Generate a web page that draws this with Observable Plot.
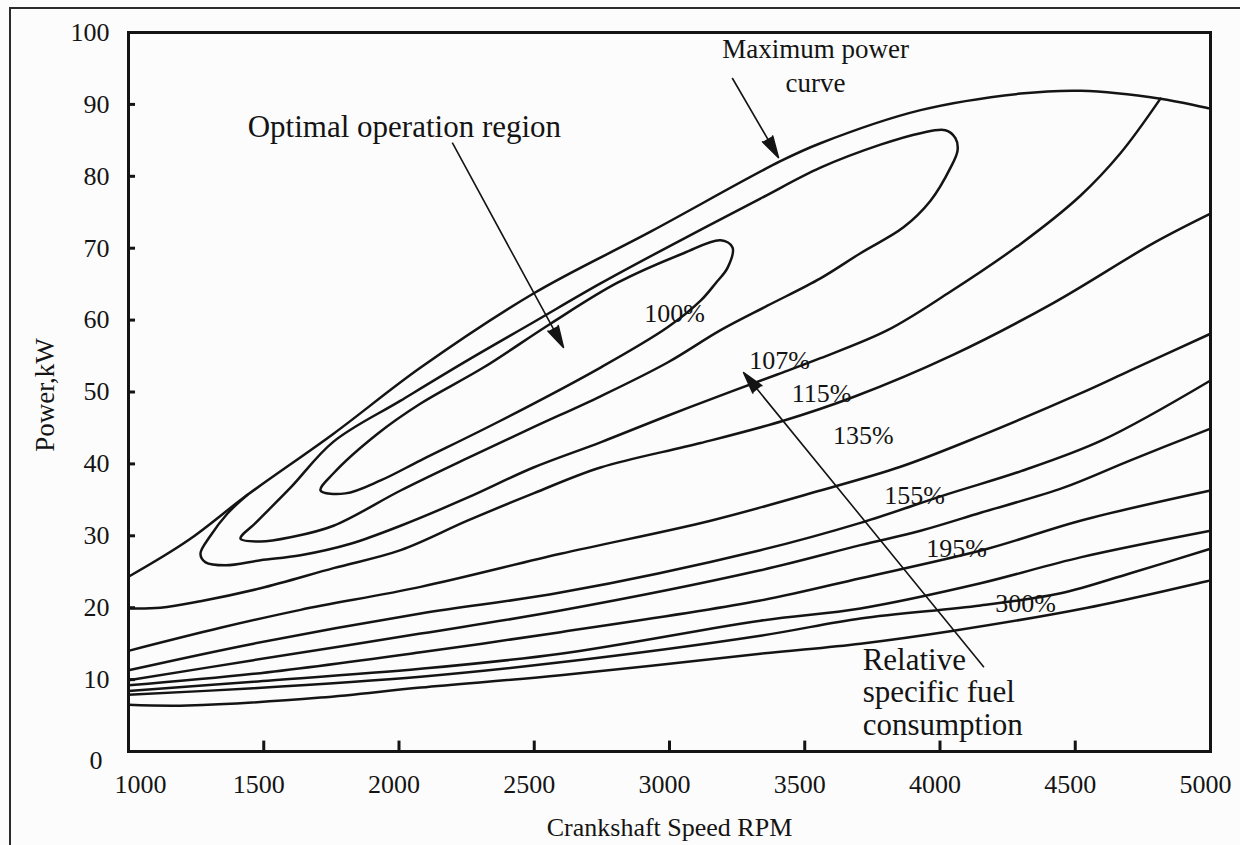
<!DOCTYPE html>
<html>
<head>
<meta charset="utf-8">
<script src="https://cdn.jsdelivr.net/npm/d3@7"></script>
<script src="https://cdn.jsdelivr.net/npm/@observablehq/plot@0.6"></script>
<style>
  html, body { margin: 0; padding: 0; background: #fcfcfc; }
  #wrap { position: relative; width: 1240px; height: 845px; overflow: hidden; background: #fcfcfc; }
  #border { position: absolute; left: 9px; top: 7px; width: 1240px; height: 850px;
            border-top: 2px solid #2b2b2b; border-left: 2px solid #2b2b2b; pointer-events: none; }
</style>
</head>
<body>
<div id="wrap"><div id="chart"></div><div id="border"></div></div>
<script>
// ---- tick values ----
const xTicks = [1000, 1500, 2000, 2500, 3000, 3500, 4000, 4500, 5000];
const yTicks = [0, 10, 20, 30, 40, 50, 60, 70, 80, 90, 100];

// ---- curves: [crankshaft speed (rpm), power (kW)] ----
const maxPowerCurve = [[1000,24.3],[1218,29.3],[1440,35.7],[1758,44.2],[2080,53.4],[2497,63.7],[2930,72.3],[3410,82.1],[3558,84.6],[3928,89.2],[4298,91.5],[4520,91.9],[4815,90.8],[5000,89.4]];
const loop100 = [[1710,36.3],[1758,38.7],[1921,44.2],[2080,48.4],[2312,53.4],[2560,59.5],[2808,65.2],[3052,69.3],[3189,71.1],[3233,70.1],[3215,67.3],[3170,65.1],[3115,62.7],[2993,59.0],[2745,53.4],[2375,46.0],[2080,40.5],[1932,37.7],[1802,35.9]];
const loopMid = [[1414,29.6],[1470,31.8],[1599,36.7],[1758,43.1],[2006,48.8],[2253,54.4],[2497,59.7],[2745,65.1],[3041,71.1],[3336,76.9],[3558,81.2],[3780,84.4],[3928,86.0],[4020,86.4],[4057,85.3],[4065,83.6],[4039,81.2],[3965,76.6],[3865,72.9],[3706,69.3],[3558,65.8],[3362,62.0],[3189,58.6],[2993,54.1],[2745,49.4],[2497,45.1],[2253,40.8],[2006,36.3],[1758,31.4],[1599,29.8],[1488,29.2]];
const curve107 = [[1440,35.7],[1366,33.1],[1303,30.0],[1266,27.5],[1285,26.3],[1359,25.9],[1488,26.6],[1636,27.3],[1821,28.9],[2006,31.4],[2253,35.3],[2497,39.5],[2745,43.0],[2993,46.7],[3237,50.2],[3410,52.6],[3558,54.7],[3806,58.6],[4028,63.7],[4298,70.6],[4519,77.3],[4667,83.2],[4815,90.8]];
const curve115 = [[1000,19.9],[1118,20.0],[1266,20.9],[1488,22.7],[1758,25.5],[2006,28.0],[2253,32.1],[2497,35.9],[2745,39.5],[3115,42.9],[3421,46.0],[3680,49.3],[4050,55.2],[4420,62.4],[4789,70.7],[5000,74.8]];
const curve135 = [[1000,14.0],[1340,17.2],[1636,19.7],[2080,22.9],[2597,27.5],[3152,32.1],[3558,36.3],[3854,39.6],[4150,43.9],[4519,49.8],[4704,53.0],[5000,58.1]];
const curve155 = [[1000,11.3],[1462,15.0],[2080,19.2],[2597,22.1],[3336,28.0],[3706,31.8],[4028,35.8],[4300,39.0],[4600,43.3],[5000,51.6]];
const curve175 = [[1000,9.9],[1462,12.7],[2080,16.4],[2597,19.6],[3336,25.2],[3706,28.7],[3928,30.7],[4150,33.2],[4457,36.7],[4704,40.5],[5000,44.9]];
const curve195 = [[1000,9.2],[1462,10.8],[2080,13.8],[2597,16.6],[3336,21.0],[3706,24.1],[4176,28.2],[4519,32.1],[5000,36.3]];
const curve250 = [[1000,8.4],[1462,9.7],[2080,11.5],[2597,13.6],[3336,18.2],[3706,19.9],[4150,23.4],[4519,27.0],[5000,30.7]];
const curve300 = [[1000,7.9],[1462,8.8],[2080,10.4],[2597,12.4],[3336,16.1],[3706,18.5],[4150,20.3],[4446,22.0],[4704,24.8],[5000,28.2]];
const curveLow = [[1000,6.5],[1218,6.4],[1710,7.5],[2080,8.9],[2597,10.6],[3336,13.6],[3706,15.0],[4050,16.8],[4545,20.0],[5000,23.8]];

// ---- contour labels ----
const pctText = ["100%", "107%", "115%", "135%", "155%", "195%", "300%"];
const pctRpm  = [3019, 3407, 3562, 3717, 3906, 4061, 4316];
const pctKw   = [60.9, 54.4, 49.8, 43.9, 35.6, 28.2, 20.6];

// ---- annotation arrows: tail -> tip ----
const arrowTail = [[2198, 84.6], [3233, 93.6], [4161, 11.8]];
const arrowTip  = [[2608, 56.2], [3403, 82.6], [3274, 52.7]];

// ---- annotation texts ----
const noteText = ["Optimal operation region", "Maximum power\ncurve", "Relative\nspecific fuel\nconsumption"];
const notePos  = [[2020, 86.8], [3540, 95.6], [3714, 8.3]];

// build tables
const openCurves = {maxPowerCurve, curve107, curve115, curve135, curve155, curve175, curve195, curve250, curve300, curveLow};
const openRows = Object.entries(openCurves).flatMap(([name, pts]) => pts.map(([rpm, kw]) => ({name, rpm, kw})));
const loopRows = Object.entries({loop100, loopMid}).flatMap(([name, pts]) => pts.map(([rpm, kw]) => ({name, rpm, kw})));
const arrows = arrowTail.map((t, i) => ({x1: t[0], y1: t[1], x2: arrowTip[i][0], y2: arrowTip[i][1]}));
const pcts = pctText.map((t, i) => ({t, rpm: pctRpm[i], kw: pctKw[i]}));

const ink = "#141414";
const serif = "'Liberation Serif', 'Times New Roman', serif";

const chart = Plot.plot({
  width: 1240,
  height: 845,
  marginLeft: 128,
  marginRight: 30,
  marginTop: 32,
  marginBottom: 94,
  style: {fontFamily: serif, background: "transparent", color: ink},
  x: {domain: [1000, 5000], axis: null},
  y: {domain: [0, 100], axis: null},
  marks: [
    // contour lines
    Plot.line(openRows, {x: "rpm", y: "kw", z: "name", curve: "catmull-rom", stroke: ink, strokeWidth: 2.5}),
    Plot.line(loopRows, {x: "rpm", y: "kw", z: "name", curve: "catmull-rom-closed", stroke: ink, strokeWidth: 2.5}),
    // arrows
    Plot.arrow(arrows, {x1: "x1", y1: "y1", x2: "x2", y2: "y2", stroke: ink, strokeWidth: 1.6, headAngle: 30, headLength: 21}),
    // frame
    Plot.frame({stroke: ink, strokeWidth: 3}),
    // inward ticks
    Plot.ruleX(xTicks.slice(1, -1), {x: d => d, y1: 0, y2: 1.45, stroke: ink, strokeWidth: 3}),
    Plot.ruleY(yTicks.slice(1, -1), {y: d => d, x1: 1000, x2: 1026, stroke: ink, strokeWidth: 3}),
    // tick labels
    Plot.text(xTicks.slice(1), {x: d => d, y: 0, dy: 33, dx: -5, text: d => String(d), fontSize: 26, fontFamily: serif, fill: ink}),
    Plot.text(xTicks.slice(0, 1), {x: d => d, y: 0, dy: 33, dx: 12, text: d => String(d), fontSize: 26, fontFamily: serif, fill: ink}),
    Plot.text(yTicks.slice(1), {x: 1000, y: d => d, dx: -19, textAnchor: "end", text: d => String(d), fontSize: 26, fontFamily: serif, fill: ink}),
    Plot.text(yTicks.slice(0, 1), {x: 1000, y: d => d, dx: -26, dy: 9, textAnchor: "end", text: d => String(d), fontSize: 26, fontFamily: serif, fill: ink}),
    // axis titles
    Plot.text(["Crankshaft Speed RPM"], {frameAnchor: "bottom", dy: 76, textAnchor: "middle", lineAnchor: "middle", fontSize: 26, fontFamily: serif, fill: ink}),
    Plot.text(["Power,kW"], {x: 1000, y: 50, dx: -83, dy: 3, rotate: -90, textAnchor: "middle", lineAnchor: "middle", fontSize: 27, fontFamily: serif, fill: ink}),
    // contour labels
    Plot.text(pcts, {x: "rpm", y: "kw", text: "t", fontSize: 26, fontFamily: serif, fill: ink}),
    // annotations
    Plot.text([0], {x: notePos[0][0], y: notePos[0][1], text: () => noteText[0], fontSize: 31, fontFamily: serif, fill: ink}),
    Plot.text([0], {x: notePos[1][0], y: notePos[1][1], text: () => noteText[1], fontSize: 27, lineHeight: 1.25, fontFamily: serif, fill: ink}),
    Plot.text([0], {x: notePos[2][0], y: notePos[2][1], text: () => noteText[2], fontSize: 31, lineHeight: 1.05, textAnchor: "start", fontFamily: serif, fill: ink})
  ]
});

// filled arrowheads (the head sub-path closes into a triangle when filled)
chart.querySelectorAll('g[aria-label="arrow"] path').forEach(p => {
  p.setAttribute("fill", ink);
  p.setAttribute("stroke-linejoin", "miter");
});

document.getElementById("chart").appendChild(chart);
</script>
</body>
</html>
